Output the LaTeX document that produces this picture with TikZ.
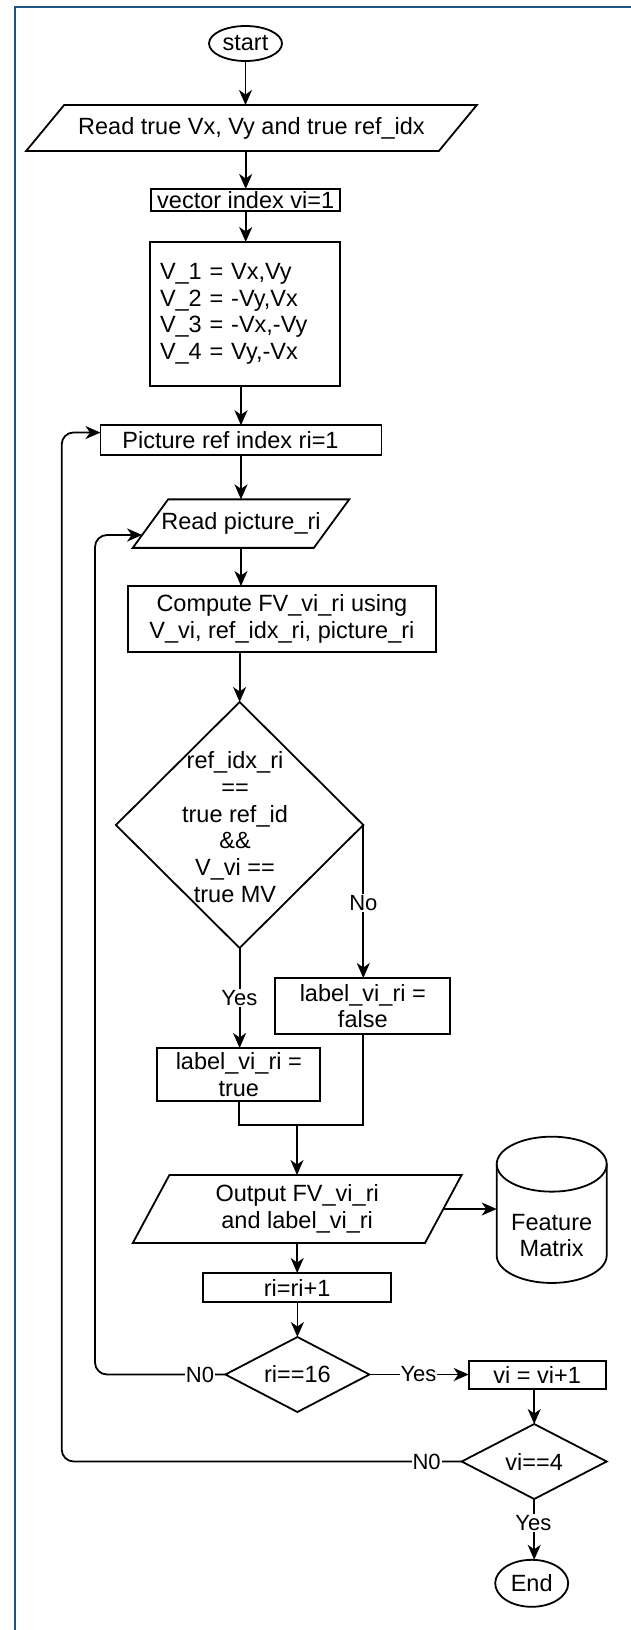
\documentclass[tikz,border=0pt]{standalone}
\usepackage{fontspec}
\setmainfont{Liberation Sans}
\usetikzlibrary{shapes.geometric,arrows.meta,calc}
\definecolor{framecol}{RGB}{31,84,137}
\begin{document}
\begin{tikzpicture}[x=1pt,y=-1pt,
  every node/.style={font=\fontsize{23.5}{26.7}\selectfont, inner sep=0pt, outer sep=0pt},
  box/.style={draw, line width=1.8pt, rectangle, align=center},
  pbox/.style={rectangle, align=center},
  term/.style={draw, ellipse, line width=1.8pt},
  dia/.style={draw, diamond, line width=1.8pt},
  arr/.style={line width=1.8pt, -{Stealth[length=15pt,width=13pt,inset=4.5pt]}},
  ln/.style={line width=1.8pt},
  elab/.style={fill=white, font=\fontsize{22}{24}\selectfont, inner sep=1pt}
]
\useasboundingbox (0,0) rectangle (631,1630);
% frame
\draw[framecol, line width=2pt] (14.8,1630) -- (14.8,6.8) -- (631,6.8);

% nodes
\node[term, minimum width=73pt, minimum height=35pt] (start) at (245.5,43.5) {start};

\node[pbox, minimum width=450.7pt, minimum height=46pt] (read1) at (251.5,128) {Read true Vx, Vy and true ref\_idx};
\draw[ln] ($(read1.north west)+(38,0)$) -- (read1.north east) -- ($(read1.south east)+(-38,0)$) -- (read1.south west) -- cycle;

\node[box, minimum width=189pt, minimum height=22pt] (vec) at (245.7,200) {vector index vi=1};

\node[box, minimum width=190pt, minimum height=144pt, text width=170pt, align=left] (vv) at (245,314) {V\_1 = Vx,Vy\\V\_2 = -Vy,Vx\\V\_3 = -Vx,-Vy\\V\_4 = Vy,-Vx};

\node[box, minimum width=281pt, minimum height=29.5pt] (pic) at (241,440) {Picture ref index ri=1\hspace*{21pt}};

\node[pbox, minimum width=216.5pt, minimum height=48.5pt] (rp) at (241,523.6) {Read picture\_ri};
\draw[ln] ($(rp.north west)+(35.4,0)$) -- (rp.north east) -- ($(rp.south east)+(-35.4,0)$) -- (rp.south west) -- cycle;

\node[box, minimum width=308pt, minimum height=66pt] (comp) at (281.9,619) {Compute FV\_vi\_ri using\\V\_vi, ref\_idx\_ri, picture\_ri};

\node[dia, minimum width=247.4pt, minimum height=246pt] (dec) at (239.6,825) {};
\node[align=center] (dectext) at (235,827) {ref\_idx\_ri\\==\\true ref\_id\\\&\&\\V\_vi ==\\true MV};

\node[box, minimum width=175pt, minimum height=56pt] (fls) at (362.8,1006) {label\_vi\_ri =\\false};
\node[box, minimum width=163pt, minimum height=53pt] (tru) at (238.8,1074.5) {label\_vi\_ri =\\true};

\node[pbox, minimum width=328.8pt, minimum height=68pt] (out) at (297.2,1209) {Output FV\_vi\_ri\\and label\_vi\_ri};
\draw[ln] ($(out.north west)+(36.6,0)$) -- (out.north east) -- ($(out.south east)+(-36.6,0)$) -- (out.south west) -- cycle;

\node[minimum width=110pt, minimum height=146.3pt] (fm) at (551.7,1209.8) {};
\draw[ln] ($(fm.north west)+(0,27.5)$) -- ($(fm.south west)+(0,-27.5)$) arc[start angle=180, end angle=0, x radius=55, y radius=27.5] -- ($(fm.north east)+(0,27.5)$);
\draw[ln] ($(fm.north)+(0,27.5)$) ellipse [x radius=55, y radius=27.5];
\node[align=center] (fmtext) at (551.7,1235.5) {Feature\\Matrix};

\node[box, minimum width=188pt, minimum height=29pt] (ri) at (297.2,1287.5) {ri=ri+1};
\node[dia, aspect=1.92, minimum width=144pt, minimum height=75pt] (d16) at (297.4,1374.5) {ri==16};
\node[box, minimum width=137pt, minimum height=28pt] (vi) at (537.2,1375) {vi = vi+1};
\node[dia, aspect=1.93, minimum width=145pt, minimum height=75pt] (d4) at (534.2,1461.5) {vi==4};
\node[term, minimum width=73pt, minimum height=47pt] (fin) at (531.7,1583.3) {End};

% helper coordinates
\coordinate (rpTL) at ($(rp.north west)+(35.4,0)$);
\coordinate (rpIn) at ($(rp.south west)!0.265!(rpTL)$);
\coordinate (picIn) at ($(pic.north west)!0.25!(pic.south west)$);
\coordinate (outR) at ($(out.east)+(-18.3,0)$);
\coordinate (mj) at (297,1125);

% connectors
\draw[arr] (start.south) -- (start.south |- read1.north);
\draw[arr] (read1.south -| vec.north) -- (vec.north);
\draw[arr] (vec.south) -- (vec.south |- vv.north);
\draw[arr] (pic.north |- vv.south) -- (pic.north);
\draw[arr] (pic.south) -- (pic.south |- rp.north);
\draw[arr] (rp.south) -- (rp.south |- comp.north);
\draw[arr] (dec.north |- comp.south) -- (dec.north);
\draw[arr] (dec.east) -- (dec.east |- fls.north);
\draw[arr] (dec.south) -- (dec.south |- tru.north);
\draw[ln] (tru.south) -- (tru.south |- mj) -- (fls.south |- mj) -- (fls.south);
\draw[arr] (mj) -- (mj |- out.north);
\draw[arr] (outR) -- (outR -| fm.west);
\draw[arr] (out.south -| ri.north) -- (ri.north);
\draw[arr] (ri.south -| d16.north) -- (d16.north);
\draw[arr] (d16.east) -- (d16.east -| vi.west);
\draw[arr] (d4.north |- vi.south) -- (d4.north);
\draw[arr] (d4.south) -- (d4.south |- fin.north);
\draw[arr, rounded corners=12pt] (d16.west) -- (95,1374.5) -- (95,535) -- (rpIn);
\draw[arr, rounded corners=12pt] (d4.west) -- (61.7,1461.5) -- (61.7,432.4) -- (picIn);

% edge labels
\node[elab] (lno) at (363.4,903) {No};
\node[elab] (lyes) at (239.4,998) {Yes};
\node[elab] (ln01) at (200,1374.5) {N0};
\node[elab] (lyes2) at (418.5,1374.5) {Yes};
\node[elab] (ln02) at (426.6,1461.5) {N0};
\node[elab] (lyes3) at (533.3,1523) {Yes};
\end{tikzpicture}
\end{document}
